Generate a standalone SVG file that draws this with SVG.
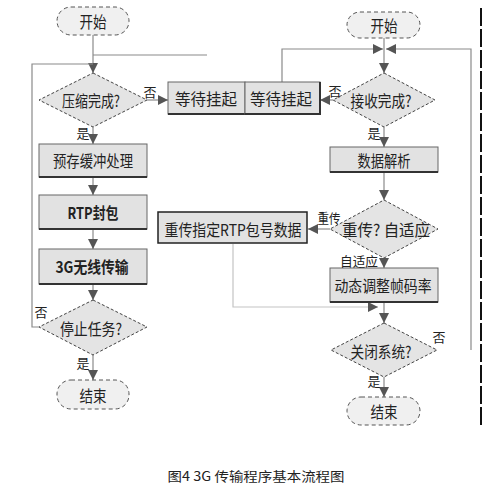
<svg xmlns="http://www.w3.org/2000/svg" width="491" height="485" viewBox="0 0 491 485">
<style>
text{font-family:"Noto Sans CJK SC","Liberation Sans",sans-serif;fill:#222;dominant-baseline:central;text-anchor:middle}
.lbl{font-size:16px}
.sm{font-size:13px}
.box{fill:#e2e2e2;stroke:#666;stroke-width:1}
.shadow{fill:none;stroke:#333;stroke-width:2}
.dia{fill:#e4e4e4;stroke:#444;stroke-width:1;stroke-dasharray:3 2}
.term{fill:#f0f0f0;stroke:#555;stroke-width:1;stroke-dasharray:4 3}
.ln{fill:none;stroke:#8a8a8a;stroke-width:1.2}
.lnf{fill:none;stroke:#c4c4c4;stroke-width:1.2}
.ar{fill:none;stroke:#8a8a8a;stroke-width:1.2;marker-end:url(#ah)}
</style>
<defs>
<marker id="ah" markerUnits="userSpaceOnUse" markerWidth="10" markerHeight="10" refX="10" refY="5" orient="auto">
<path d="M0,0 L10,5 L0,10 z" fill="#555"/>
</marker>
</defs>
<rect width="491" height="485" fill="#fff"/>
<g id="connectors">
<path class="ar" d="M93,35 V73"/>
<path class="ln" d="M93,55 H207"/>
<path class="ln" d="M39,327 H32 V64 H93"/>
<path class="ar" d="M147,100 H168"/>
<path class="ar" d="M93,127 V144"/>
<path class="ar" d="M93,177 V195"/>
<path class="ar" d="M93,229 V249"/>
<path class="ar" d="M93,284 V300"/>
<path class="ar" d="M93,355 V380"/>
<path class="ar" d="M384,38 V73"/>
<path class="ar" d="M282,83 V49 H383"/>
<path class="ar" d="M471,350 V49 H386"/>
<path class="ar" d="M333,100 H320"/>
<path class="ar" d="M384,127 V147"/>
<path class="ar" d="M384,172 V200"/>
<path class="ar" d="M330,229 H308"/>
<path class="ar" d="M384,258 V268"/>
<path class="lnf" d="M233,244 V307 H368"/>
<path d="M368,307 H378" stroke="#c4c4c4" stroke-width="1.2" marker-end="url(#ah)"/>
<path class="ar" d="M384,302 V323"/>
<path class="ar" d="M384,377 V397"/>
</g>
<g id="start-left"><rect class="term" x="57" y="7" width="72" height="28" rx="14"/><text class="lbl" x="93" y="21" textLength="27" lengthAdjust="spacingAndGlyphs">开始</text></g>
<g id="compress-done"><path class="dia" d="M93,73 L147,100 L93,127 L39,100 z"/><text class="lbl" x="91" y="100" textLength="58" lengthAdjust="spacingAndGlyphs">压缩完成?</text></g>
<g id="wait1"><rect class="box" x="168" y="82" width="77" height="32"/><path class="shadow" d="M168,114 H245"/><text class="lbl" x="206" y="98" textLength="62" lengthAdjust="spacingAndGlyphs">等待挂起</text></g>
<g id="wait2"><rect class="box" x="245" y="82" width="75" height="32"/><path class="shadow" d="M245,114 H320 V82"/><text class="lbl" x="281" y="98" textLength="62" lengthAdjust="spacingAndGlyphs">等待挂起</text></g>
<g id="prebuffer"><rect class="box" x="39" y="144" width="108" height="33"/><path class="shadow" d="M39,177 H147"/><text class="lbl" x="93" y="160" textLength="80" lengthAdjust="spacingAndGlyphs">预存缓冲处理</text></g>
<g id="rtp-pack"><rect class="box" x="39" y="195" width="108" height="34"/><path class="shadow" d="M39,229 H147"/><text class="lbl" x="93" y="212" textLength="51" lengthAdjust="spacingAndGlyphs" font-weight="bold">RTP封包</text></g>
<g id="3g-tx"><rect class="box" x="39" y="249" width="108" height="35"/><path class="shadow" d="M39,284 H147"/><text class="lbl" x="92" y="266" textLength="73" lengthAdjust="spacingAndGlyphs" font-weight="bold">3G无线传输</text></g>
<g id="stop-task"><path class="dia" d="M93,300 L147,327 L93,355 L39,327 z"/><text class="lbl" x="91" y="328" textLength="62" lengthAdjust="spacingAndGlyphs">停止任务?</text></g>
<g id="end-left"><rect class="term" x="57" y="380" width="72" height="29" rx="14"/><text class="lbl" x="93" y="395" textLength="27" lengthAdjust="spacingAndGlyphs">结束</text></g>
<g id="start-right"><rect class="term" x="347" y="12" width="73" height="26" rx="13"/><text class="lbl" x="384" y="25" textLength="27" lengthAdjust="spacingAndGlyphs">开始</text></g>
<g id="recv-done"><path class="dia" d="M384,73 L435,100 L384,127 L333,100 z"/><text class="lbl" x="381" y="100" textLength="61" lengthAdjust="spacingAndGlyphs">接收完成?</text></g>
<g id="parse"><rect class="box" x="330" y="147" width="108" height="25"/><path class="shadow" d="M330,172 H438"/><text class="lbl" x="384" y="160" textLength="53" lengthAdjust="spacingAndGlyphs">数据解析</text></g>
<g id="retx-adapt"><path class="dia" d="M384,200 L438,229 L384,258 L330,229 z"/><text class="lbl" x="386" y="229" textLength="88" lengthAdjust="spacingAndGlyphs">重传? 自适应</text></g>
<g id="retx-rtp"><rect x="158" y="212" width="149" height="31" fill="#e2e2e2" stroke="#222" stroke-width="1.5"/><text class="lbl" x="233" y="229" textLength="137" lengthAdjust="spacingAndGlyphs">重传指定RTP包号数据</text></g>
<g id="adjust-rate"><rect class="box" x="330" y="268" width="108" height="34"/><path class="shadow" d="M330,302 H438"/><text class="lbl" x="383" y="285" textLength="97" lengthAdjust="spacingAndGlyphs">动态调整帧码率</text></g>
<g id="close-sys"><path class="dia" d="M384,323 L437,350 L384,377 L331,350 z"/><text class="lbl" x="381" y="351" textLength="61" lengthAdjust="spacingAndGlyphs">关闭系统?</text></g>
<g id="end-right"><rect class="term" x="347" y="397" width="73" height="28" rx="14"/><text class="lbl" x="384" y="411" textLength="27" lengthAdjust="spacingAndGlyphs">结束</text></g>
<g id="labels">
<text class="sm" x="150" y="91">否</text>
<text class="sm" x="83" y="132">是</text>
<text class="sm" x="41" y="311">否</text>
<text class="sm" x="83" y="362">是</text>
<text class="sm" x="335" y="90">否</text>
<text class="sm" x="374" y="132">是</text>
<text class="sm" x="329" y="217" textLength="23" lengthAdjust="spacingAndGlyphs">重传</text>
<text class="sm" x="359" y="260" textLength="38" lengthAdjust="spacingAndGlyphs">自适应</text>
<text class="sm" x="439" y="336">否</text>
<text class="sm" x="374" y="380">是</text>
</g>
<path d="M481,8 V428" stroke="#111" stroke-width="2" stroke-dasharray="18 3" fill="none"/>
<text x="256" y="475" font-size="13" textLength="177" lengthAdjust="spacingAndGlyphs">图4 3G 传输程序基本流程图</text>
</svg>
